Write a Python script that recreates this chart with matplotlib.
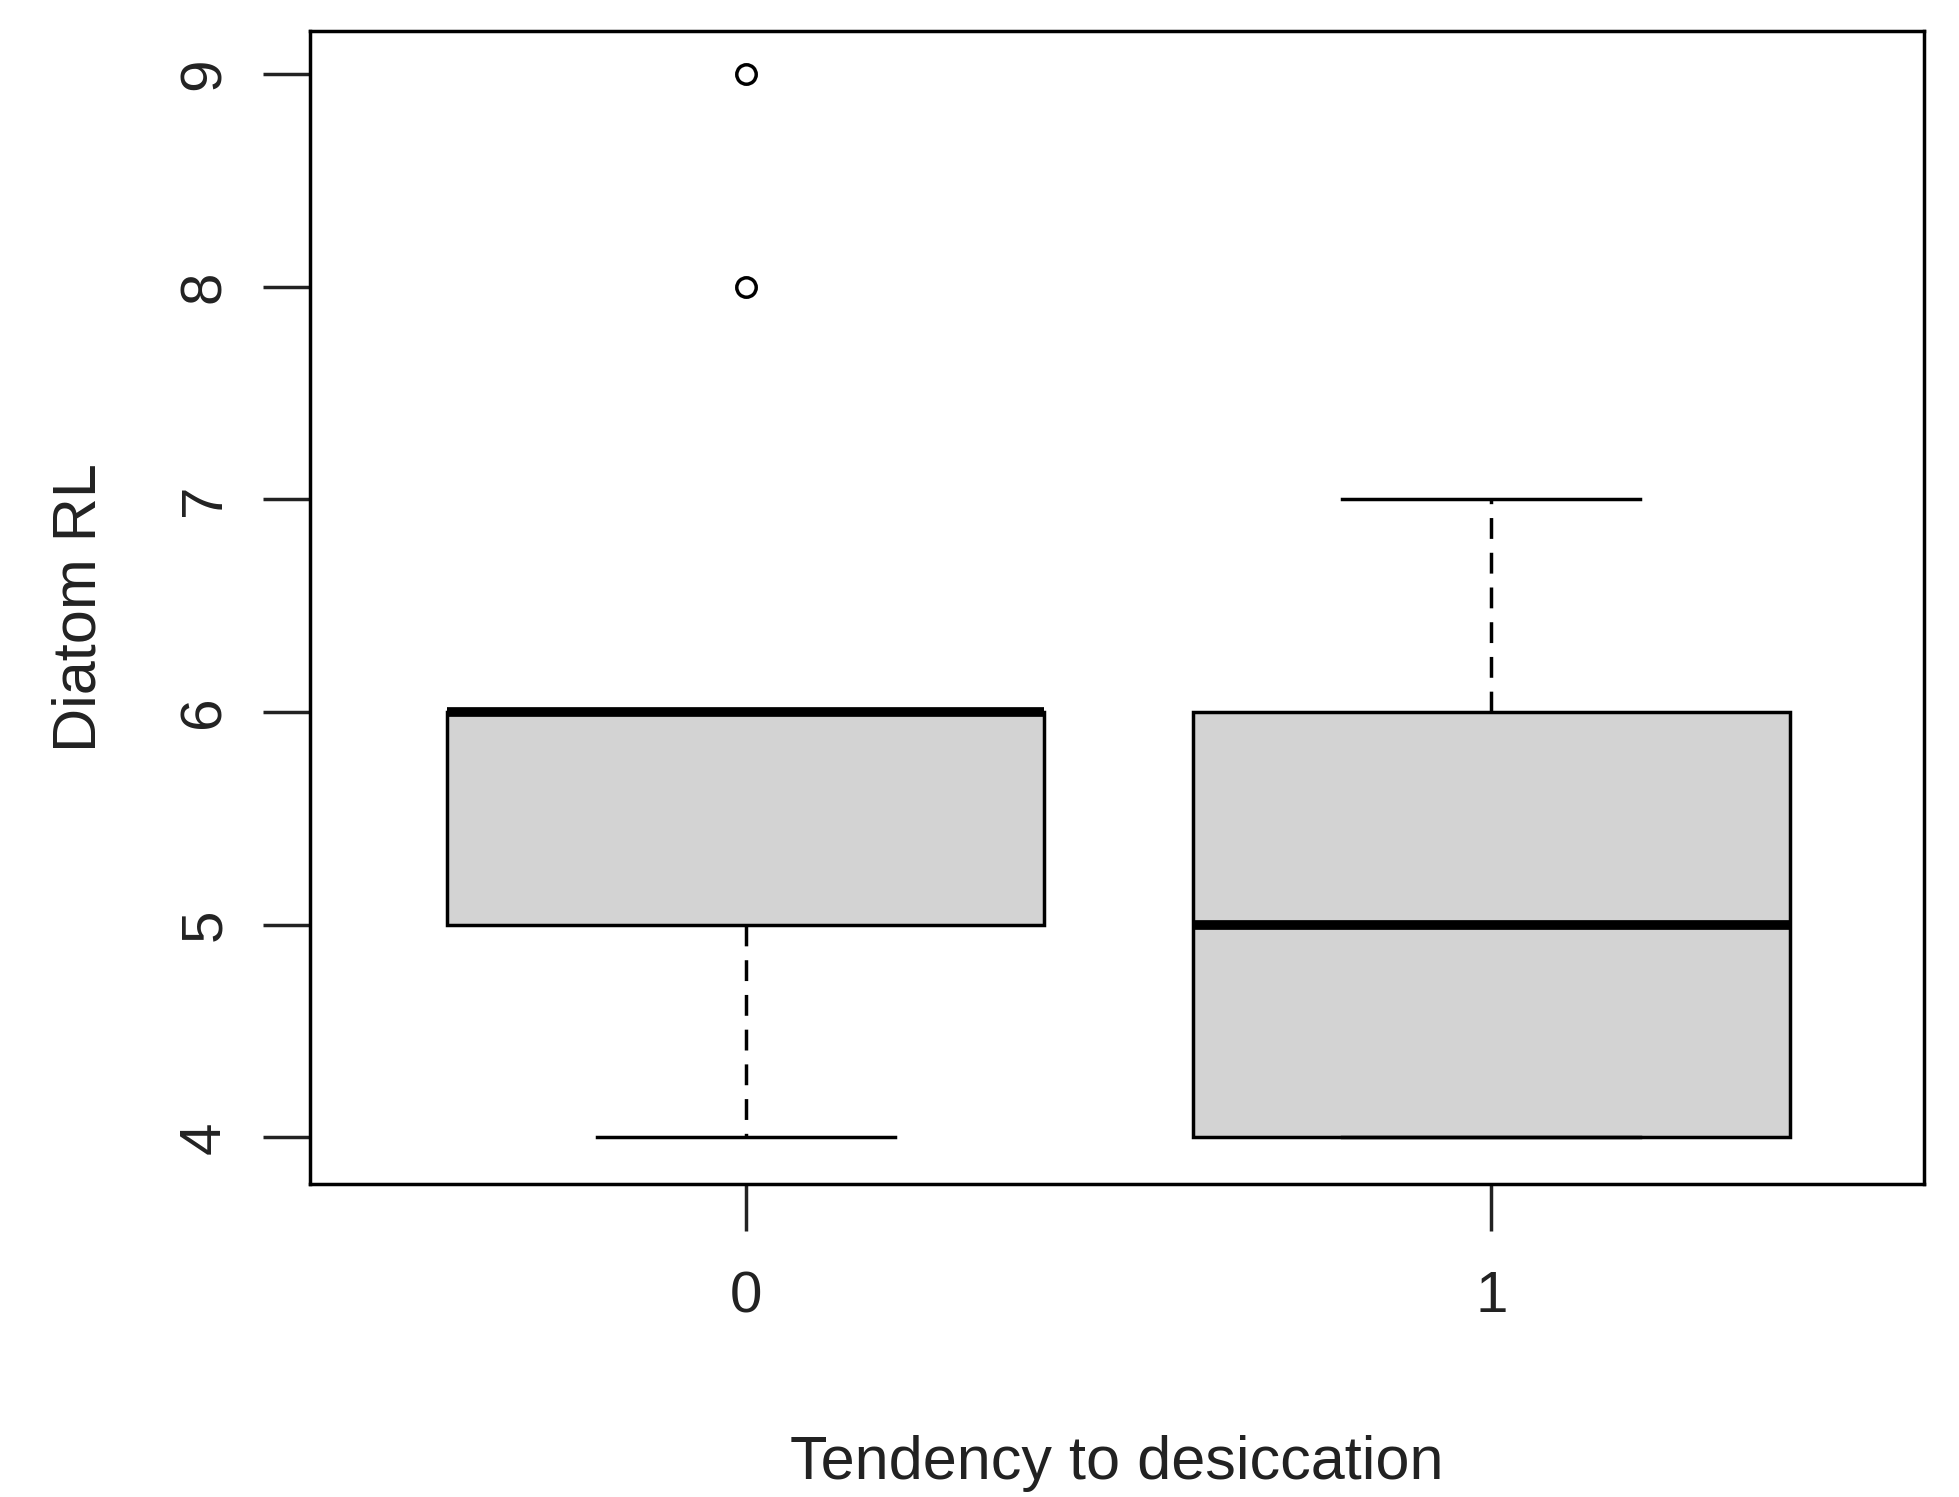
import matplotlib
matplotlib.use('Agg')
import matplotlib.pyplot as plt

groups = ['0', '1']
q1 = [5, 4]
med = [6, 5]
q3 = [6, 6]
whislo = [4, 4]
whishi = [6, 7]
fliers = [[8, 9], []]

stats = []
for i in range(len(groups)):
    stats.append(dict(label=groups[i], q1=q1[i], med=med[i], q3=q3[i],
                      whislo=whislo[i], whishi=whishi[i], fliers=fliers[i]))

plt.rcParams['font.family'] = ['Liberation Sans', 'DejaVu Sans']
fig = plt.figure(figsize=(19.59, 14.97), dpi=100)
ax = fig.add_axes([0.158, 0.209, 0.824, 0.77])
ax.bxp(stats, positions=[0, 1], widths=0.8, patch_artist=True,
       boxprops=dict(facecolor='#d3d3d3', edgecolor='black', linewidth=2.5),
       medianprops=dict(color='black', linewidth=7),
       whiskerprops=dict(color='black', linewidth=2.5, linestyle=(0, (6, 4))),
       capprops=dict(color='black', linewidth=2.5),
       capwidths=0.4,
       flierprops=dict(marker='o', markerfacecolor='none', markeredgecolor='black',
                       markersize=14, markeredgewidth=2.5))
ax.set_xlim(-0.585, 1.58)
ax.set_ylim(3.78, 9.2)
ax.set_yticks([4, 5, 6, 7, 8, 9])
ax.set_xticks([0, 1])
ax.set_xticklabels(groups)
for s in ax.spines.values():
    s.set_linewidth(2.5)
ax.tick_params(axis='both', labelsize=42, width=2.5, length=34, colors='#222222')
ax.tick_params(axis='x', pad=28)
ax.tick_params(axis='y', pad=22)
for t in ax.get_yticklabels():
    t.set_rotation(90)
    t.set_va('center')
ax.set_xlabel('Tendency to desiccation', fontsize=44, labelpad=80, color='#222222')
ax.set_ylabel('Diatom RL', fontsize=44, labelpad=50, color='#222222')
fig.savefig('out.png', dpi=100)
